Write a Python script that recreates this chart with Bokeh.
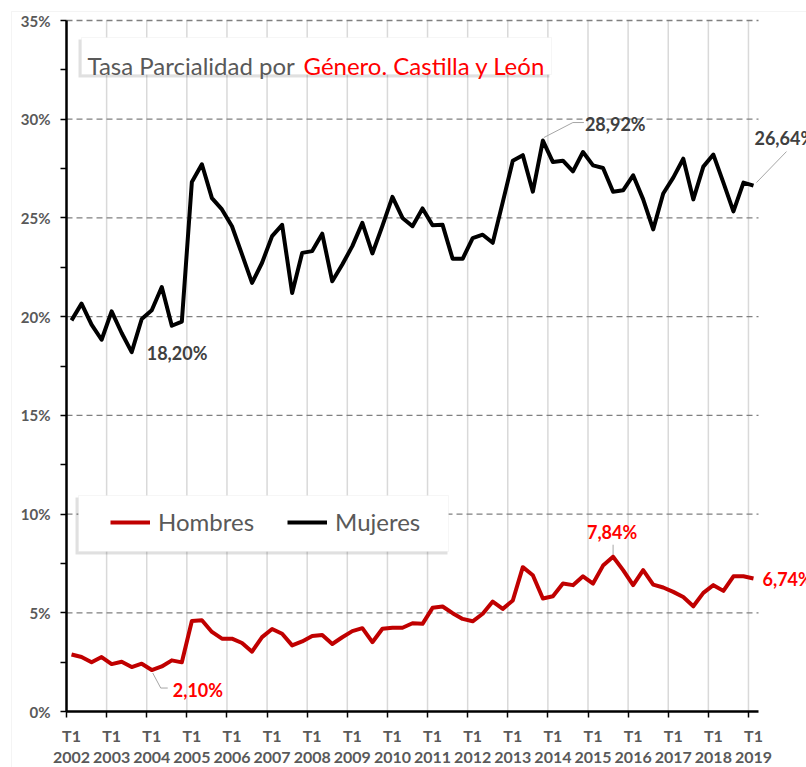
from bokeh.plotting import figure
from bokeh.models import (Range1d, FixedTicker, PrintfTickFormatter, Label,
                          BoxAnnotation, Legend, LegendItem, Arrow, LinearAxis)
from bokeh.embed import file_html
from bokeh.resources import INLINE

# ---------------- data ----------------
years = [str(y) for y in range(2002, 2020)]
quarter_tick = "T1"
mujeres = [19.81, 20.66, 19.60, 18.83, 20.27, 19.17, 18.20, 19.88, 20.32, 21.50,
           19.54, 19.75, 26.82, 27.72, 26.00, 25.43, 24.58, 23.15, 21.71, 22.73,
           24.08, 24.65, 21.20, 23.23, 23.32, 24.20, 21.79, 22.64, 23.57, 24.75,
           23.20, 24.60, 26.07, 25.00, 24.58, 25.48, 24.63, 24.65, 22.93, 22.93,
           23.98, 24.15, 23.74, 25.80, 27.90, 28.18, 26.33, 28.92, 27.83, 27.90,
           27.36, 28.34, 27.66, 27.53, 26.33, 26.40, 27.16, 25.94, 24.42, 26.24,
           27.04, 28.00, 25.94, 27.60, 28.21, 26.79, 25.33, 26.79, 26.64]
hombres = [2.89, 2.76, 2.49, 2.76, 2.40, 2.52, 2.25, 2.42, 2.10, 2.28,
           2.59, 2.49, 4.58, 4.62, 4.03, 3.69, 3.69, 3.47, 3.03, 3.77,
           4.18, 3.94, 3.35, 3.55, 3.82, 3.87, 3.42, 3.76, 4.07, 4.22,
           3.51, 4.19, 4.24, 4.24, 4.47, 4.44, 5.25, 5.32, 4.98, 4.69,
           4.57, 4.95, 5.57, 5.20, 5.62, 7.31, 6.90, 5.72, 5.84, 6.48,
           6.40, 6.85, 6.48, 7.39, 7.84, 7.16, 6.40, 7.16, 6.43, 6.28,
           6.06, 5.80, 5.33, 6.01, 6.40, 6.11, 6.85, 6.85, 6.74]
y_ticks = [0, 5, 10, 15, 20, 25, 30, 35]
title_grey = "Tasa Parcialidad por "
title_red = "Género. Castilla y León"
series_names = ["Hombres", "Mujeres"]

x = list(range(len(mujeres)))

# --------------- geometry helpers (page px -> data) ---------------
W, H = 806, 767
FL, FR, FT, FB = 66.0, 758.0, 20.0, 711.0   # plot area of the reference
XMIN, XMAX = -0.5, len(x) - 0.5
YMAX = float(y_ticks[-1])
CW = (FR - FL) / (XMAX - XMIN)
RH = (FB - FT) / YMAX


def xd(px):
    return XMIN + (px - FL) / CW


def yd(py):
    return (FB - py) / RH


FONT = "Lato"
GREY = "#595959"
RED = "#FF0000"
DARK = "#C00000"

p = figure(width=W, height=H, output_backend="svg", toolbar_location=None,
           x_range=Range1d(xd(0), xd(W)), y_range=Range1d(yd(H), yd(0)),
           x_axis_location=None, y_axis_location=None,
           min_border_left=0, min_border_right=0, min_border_top=0,
           min_border_bottom=0)
p.outline_line_color = None
p.background_fill_color = "white"
p.border_fill_color = "white"
p.xgrid.visible = False
p.ygrid.visible = False

# y axis at the left edge of the plot area
yaxis = LinearAxis(fixed_location=XMIN, bounds=(0, YMAX),
                   ticker=FixedTicker(ticks=y_ticks,
                                      minor_ticks=[t + 2.5 for t in y_ticks[:-1]]),
                   formatter=PrintfTickFormatter(format="%d%%"))
yaxis.axis_line_width = 2.5
yaxis.axis_line_color = "black"
yaxis.major_tick_in = 0
yaxis.major_tick_out = 6
yaxis.minor_tick_in = 0
yaxis.minor_tick_out = 6
yaxis.major_tick_line_width = 1.5
yaxis.minor_tick_line_width = 1.5
yaxis.major_tick_line_color = "black"
yaxis.minor_tick_line_color = "black"
yaxis.major_label_text_font = FONT
yaxis.major_label_text_font_style = "bold"
yaxis.major_label_text_font_size = "15px"
yaxis.major_label_text_color = GREY
yaxis.major_label_standoff = 10
p.add_layout(yaxis, "left")

# x axis at 0, ticks at year boundaries
year_bounds = [i - 0.5 for i in range(0, len(x), 4)]
xaxis = LinearAxis(fixed_location=0, bounds=(XMIN, XMAX),
                   ticker=FixedTicker(ticks=year_bounds, minor_ticks=[]))
xaxis.axis_line_width = 2.5
xaxis.axis_line_color = "black"
xaxis.major_tick_in = 0
xaxis.major_tick_out = 6
xaxis.major_tick_line_width = 1.5
xaxis.major_tick_line_color = "black"
xaxis.major_label_text_font_size = "1px"
xaxis.major_label_text_alpha = 0
xaxis.major_label_standoff = 0
p.add_layout(xaxis, "below")

# grid lines (limited to the plot area)
p.segment(x0=year_bounds, x1=year_bounds, y0=[0] * len(year_bounds),
          y1=[YMAX] * len(year_bounds), line_color="#d9d9d9", line_width=1.5)
p.segment(x0=[XMIN] * len(y_ticks[1:]), x1=[XMAX] * len(y_ticks[1:]),
          y0=y_ticks[1:], y1=y_ticks[1:], line_color="#808080", line_width=1.3,
          line_dash="6 4")

# x tick labels
for k, yr in enumerate(years):
    xc = 4 * k
    p.add_layout(Label(x=xc, y=yd(735), text=quarter_tick, text_align="center",
                       text_baseline="middle", text_font=FONT, text_font_style="bold",
                       text_font_size="16px", text_color=GREY))
    p.add_layout(Label(x=xc, y=yd(757), text=yr, text_align="center",
                       text_baseline="middle", text_font=FONT, text_font_style="bold",
                       text_font_size="16px", text_color=GREY))

# series
r_h = p.line(x, hombres, line_color=DARK, line_width=4, line_join="round")
r_m = p.line(x, mujeres, line_color="black", line_width=4, line_join="round")

# ---------- outer chart border ----------
p.add_layout(BoxAnnotation(left=xd(11), right=xd(W + 20), top=yd(11), bottom=yd(H + 20),
                           fill_alpha=0, line_color="#d9d9d9", line_width=1))

# ---------- title box ----------
p.add_layout(BoxAnnotation(left=xd(78), right=xd(549), top=yd(39), bottom=yd(77),
                           fill_color="black", fill_alpha=0.12, line_alpha=0))
p.add_layout(BoxAnnotation(left=xd(81), right=xd(551), top=yd(37), bottom=yd(74),
                           fill_color="white", fill_alpha=1, line_color="#e0e0e0",
                           line_width=1))
p.add_layout(Label(x=xd(87), y=yd(65), text=title_grey, text_font=FONT,
                   text_font_size="24px", text_color=GREY, text_baseline="alphabetic"))
p.add_layout(Label(x=xd(303), y=yd(65), text=title_red, text_font=FONT,
                   text_font_size="24px", text_color=RED, text_baseline="alphabetic"))

# ---------- legend box ----------
p.add_layout(BoxAnnotation(left=xd(75), right=xd(447), top=yd(497), bottom=yd(554),
                           fill_color="black", fill_alpha=0.12, line_alpha=0))
p.add_layout(BoxAnnotation(left=xd(78), right=xd(448), top=yd(495), bottom=yd(551),
                           fill_color="white", fill_alpha=1, line_color="#e0e0e0",
                           line_width=1))
legend = Legend(items=[LegendItem(label=series_names[0], renderers=[r_h]),
                       LegendItem(label=series_names[1], renderers=[r_m])],
                location=(110, int(H - 536)), orientation="horizontal",
                padding=0, margin=0, spacing=33, glyph_width=40, glyph_height=24,
                label_standoff=8, label_text_font=FONT, label_text_font_size="24px",
                label_text_color=GREY, background_fill_alpha=0,
                border_line_alpha=0)
p.add_layout(legend)


# ---------- data labels ----------
def fmt(v):
    return f"{v:.2f}%".replace(".", ",")


def dlabel(i, series, dx, dy, color, align="left"):
    p.add_layout(Label(x=i, y=series[i], x_offset=dx, y_offset=dy, text=fmt(series[i]),
                       text_align=align, text_baseline="middle", text_font=FONT,
                       text_font_style="bold", text_font_size="18px", text_color=color))


def leader(i, series, pts):
    for (ax, ay), (bx, by) in zip(pts[:-1], pts[1:]):
        p.add_layout(Arrow(end=None, x_start=i + ax / CW, y_start=series[i] + ay / RH,
                           x_end=i + bx / CW, y_end=series[i] + by / RH,
                           line_color="#a6a6a6", line_width=1))


i_min_m = mujeres.index(min(mujeres))
i_max_m = mujeres.index(max(mujeres))
i_last = len(mujeres) - 1
i_min_h = hombres.index(min(hombres))
i_max_h = hombres.index(max(hombres))

dlabel(i_min_m, mujeres, 15, -1, "#404040")
leader(i_max_m, mujeres, [(1, 3), (30, 18), (41, 18)])
dlabel(i_max_m, mujeres, 42, 17, "#404040")
leader(i_last, mujeres, [(3, 3), (33, 34)])
dlabel(i_last, mujeres, 1, 48, "#404040")

leader(i_min_h, hombres, [(1, -3), (9, -18), (16, -18)])
dlabel(i_min_h, hombres, 21, -20, RED)
leader(i_max_h, hombres, [(0, 2), (0, 12)])
dlabel(i_max_h, hombres, -1, 25, RED, align="center")
dlabel(i_last, hombres, 9, -1, RED)

open("out.html", "w").write(file_html(p, INLINE))
